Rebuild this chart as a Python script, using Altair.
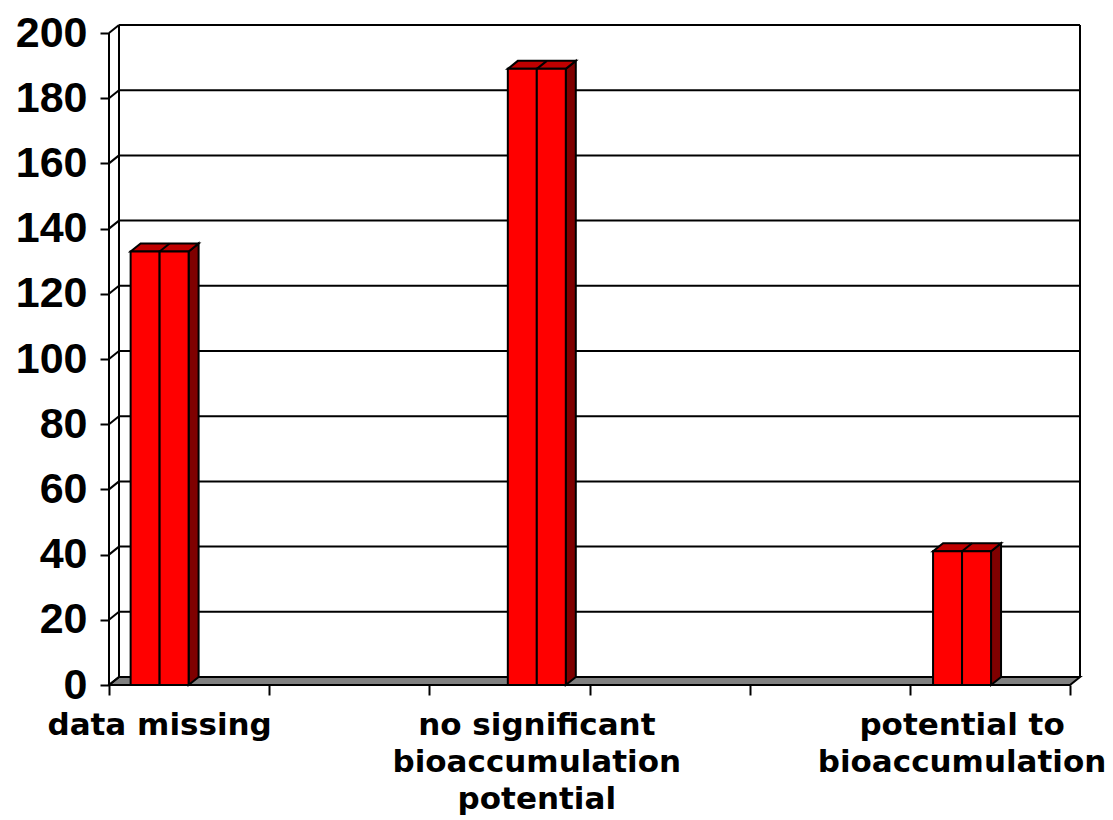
import altair as alt
import pandas as pd

# ---- data -------------------------------------------------------------
categories = [
    "data missing",
    "no significant\nbioaccumulation\npotential",
    "potential to\nbioaccumulation",
]
values = [133, 189, 41]
y_ticks = [0, 20, 40, 60, 80, 100, 120, 140, 160, 180, 200]

# ---- layout of the pseudo-3D box --------------------------------------
W, H = 971, 660          # plot area in px (includes the depth offset)
DEPTH_PX_X, DEPTH_PX_Y = 10, 8
N_DIV = 6                # floor divisions (x-axis ticks)
Y_MAX = 200
PX_X = (W - DEPTH_PX_X) / N_DIV
PX_Y = (H - DEPTH_PX_Y) / Y_MAX
DX = DEPTH_PX_X / PX_X   # depth offset in data units
DY = DEPTH_PX_Y / PX_Y
X_MAX = W / PX_X
Y_TOP = H / PX_Y

BAR_W = 0.362                     # bar width in floor units
bar_left = [0.135, 2.49, 5.145]   # left edge of each bar along the floor

BLACK = "#000000"
LW = 2

xs = alt.Scale(domain=[0, X_MAX], nice=False, zero=False)
ys = alt.Scale(domain=[0, Y_TOP], nice=False, zero=False)

# one shared axis definition per channel, used by every layer
AX = alt.Axis(
    values=list(range(N_DIV + 1)), labels=False, domain=False,
    ticks=True, tickSize=10, tickWidth=LW, tickColor=BLACK,
    grid=False, title="",
)
AY = alt.Axis(
    values=y_ticks, domain=False, ticks=True, tickSize=9,
    tickWidth=LW, tickColor=BLACK, grid=False, title="",
    labelFont="Liberation Sans", labelFontWeight="bold",
    labelFontSize=43, labelColor=BLACK, labelPadding=13,
)


def X(field):
    return alt.X(field, scale=xs, axis=AX)


def Y(field):
    return alt.Y(field, scale=ys, axis=AY)


# floor parallelogram
floor = pd.DataFrame({
    "x": [0, DX, N_DIV, N_DIV + DX],
    "y": [0, 0, 0, DY],
    "y2": [0, DY, DY, DY],
})
floor_layer = alt.Chart(floor).mark_area(
    color="#808080", stroke=BLACK, strokeWidth=LW, interpolate="linear"
).encode(x=X("x:Q"), y=Y("y:Q"), y2="y2:Q")

# back-wall gridlines and the slanted links on the left wall
grid = pd.DataFrame({"k": y_ticks})
grid["yb"] = grid["k"] + DY
grid["x0"] = DX
grid["x1"] = N_DIV + DX
grid["xl"] = 0.0
grid_layer = alt.Chart(grid[grid["k"] > 0]).mark_rule(
    color=BLACK, strokeWidth=LW
).encode(x=X("x0:Q"), x2="x1:Q", y=Y("yb:Q"))
diag_layer = alt.Chart(grid).mark_rule(color=BLACK, strokeWidth=LW).encode(
    x=X("xl:Q"), x2="x0:Q", y=Y("k:Q"), y2="yb:Q"
)

# vertical wall edges (back-left, right, and the front-left edge)
walls = pd.DataFrame({
    "x": [DX, N_DIV + DX, 0.0],
    "y": [DY, DY, 0],
    "y2": [Y_MAX + DY, Y_MAX + DY, Y_MAX],
})
walls_layer = alt.Chart(walls).mark_rule(color=BLACK, strokeWidth=LW).encode(
    x=X("x:Q"), y=Y("y:Q"), y2="y2:Q"
)

# bar geometry
side_rows, top_rows, front_rows, div_rows, label_rows = [], [], [], [], []
for i, (cat, v, L) in enumerate(zip(categories, values, bar_left)):
    R = L + BAR_W
    M = L + BAR_W / 2
    side_rows += [
        {"bar": i, "x": R, "y": 0, "y2": v},
        {"bar": i, "x": R + DX, "y": DY, "y2": v + DY},
    ]
    top_rows += [
        {"bar": i, "x": L, "y": v, "y2": v},
        {"bar": i, "x": L + DX, "y": v, "y2": v + DY},
        {"bar": i, "x": R, "y": v, "y2": v + DY},
        {"bar": i, "x": R + DX, "y": v + DY, "y2": v + DY},
    ]
    front_rows += [
        {"bar": i, "x": L, "x2": M, "v": v, "zero": 0},
        {"bar": i, "x": M, "x2": R, "v": v, "zero": 0},
    ]
    div_rows.append({"x": M, "x2": M + DX, "y": v, "y2": v + DY})
    label_rows.append({"x": M, "y": 0, "label": cat})

side_layer = alt.Chart(pd.DataFrame(side_rows)).mark_area(
    color="#7F0000", stroke=BLACK, strokeWidth=LW, interpolate="linear"
).encode(x=X("x:Q"), y=Y("y:Q"), y2="y2:Q", detail="bar:N")
top_layer = alt.Chart(pd.DataFrame(top_rows)).mark_area(
    color="#C00000", stroke=BLACK, strokeWidth=LW, interpolate="linear"
).encode(x=X("x:Q"), y=Y("y:Q"), y2="y2:Q", detail="bar:N")
front_layer = alt.Chart(pd.DataFrame(front_rows)).mark_rect(
    color="#FF0000", stroke=BLACK, strokeWidth=LW
).encode(x=X("x:Q"), x2="x2:Q", y=Y("zero:Q"), y2="v:Q")
div_layer = alt.Chart(pd.DataFrame(div_rows)).mark_rule(
    color=BLACK, strokeWidth=LW
).encode(x=X("x:Q"), x2="x2:Q", y=Y("y:Q"), y2="y2:Q")

label_layer = alt.Chart(pd.DataFrame(label_rows)).mark_text(
    font="DejaVu Sans", fontWeight="bold", fontSize=31, color=BLACK,
    align="center", baseline="top", lineBreak="\n", lineHeight=37, dy=26,
).encode(x=X("x:Q"), y=Y("y:Q"), text="label:N")

chart = alt.layer(
    floor_layer, grid_layer, diag_layer, walls_layer,
    side_layer, top_layer, front_layer, div_layer, label_layer,
).properties(
    width=W, height=H,
    padding={"left": 109, "top": 25, "right": 1113 - 109 - W, "bottom": 820 - 25 - H},
    autosize=alt.AutoSizeParams(type="none"),
    background="white",
).configure_view(stroke=None)

chart.save("out.html", embed_options={"renderer": "svg", "actions": False})
